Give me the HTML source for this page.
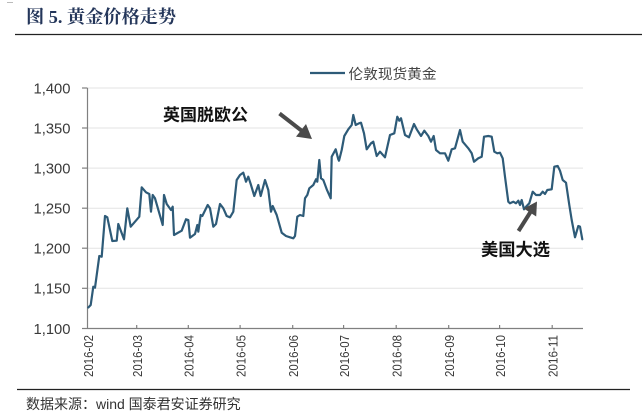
<!DOCTYPE html>
<html><head><meta charset="utf-8"><style>
html,body{margin:0;padding:0;background:#fff;}
svg{display:block;}
</style></head><body>
<svg width="642" height="415" viewBox="0 0 642 415" xmlns="http://www.w3.org/2000/svg">
<rect width="642" height="415" fill="#fff"/>
<line x1="7" y1="2.5" x2="13" y2="2.5" stroke="#bbb" stroke-width="1"/>
<text x="26" y="23" font-family="'Liberation Serif','Noto Serif CJK SC',serif" font-weight="bold" font-size="18" fill="#24365a" textLength="150" lengthAdjust="spacingAndGlyphs">图 5. 黄金价格走势</text>
<line x1="15" y1="34.5" x2="642" y2="34.5" stroke="#222" stroke-width="1.3"/>

<g stroke="#e3e3e3" stroke-width="1">
<line x1="88" y1="88" x2="583" y2="88"/>
<line x1="88" y1="128" x2="583" y2="128"/>
<line x1="88" y1="168.1" x2="583" y2="168.1"/>
<line x1="88" y1="208.2" x2="583" y2="208.2"/>
<line x1="88" y1="248.2" x2="583" y2="248.2"/>
<line x1="88" y1="288.3" x2="583" y2="288.3"/>
</g>
<g stroke="#808080" stroke-width="1.2">
<line x1="87.5" y1="88" x2="87.5" y2="328.5"/>
<line x1="87.5" y1="328.5" x2="583" y2="328.5"/>
<line x1="82" y1="88" x2="87.5" y2="88"/>
<line x1="82" y1="128" x2="87.5" y2="128"/>
<line x1="82" y1="168.1" x2="87.5" y2="168.1"/>
<line x1="82" y1="208.2" x2="87.5" y2="208.2"/>
<line x1="82" y1="248.2" x2="87.5" y2="248.2"/>
<line x1="82" y1="288.3" x2="87.5" y2="288.3"/>
<line x1="82" y1="328.5" x2="87.5" y2="328.5"/>
<line x1="136.7" y1="325" x2="136.7" y2="328.5"/>
<line x1="188.3" y1="325" x2="188.3" y2="328.5"/>
<line x1="240.1" y1="325" x2="240.1" y2="328.5"/>
<line x1="292.7" y1="325" x2="292.7" y2="328.5"/>
<line x1="343.6" y1="325" x2="343.6" y2="328.5"/>
<line x1="396.2" y1="325" x2="396.2" y2="328.5"/>
<line x1="448.7" y1="325" x2="448.7" y2="328.5"/>
<line x1="499.6" y1="325" x2="499.6" y2="328.5"/>
<line x1="552.2" y1="325" x2="552.2" y2="328.5"/>
</g>

<g font-family="'Liberation Sans',sans-serif" font-size="15" fill="#3a3a3a" text-anchor="end">
<text x="70.5" y="93.3" textLength="37" lengthAdjust="spacingAndGlyphs">1,400</text>
<text x="70.5" y="133.3" textLength="37" lengthAdjust="spacingAndGlyphs">1,350</text>
<text x="70.5" y="173.4" textLength="37" lengthAdjust="spacingAndGlyphs">1,300</text>
<text x="70.5" y="213.5" textLength="37" lengthAdjust="spacingAndGlyphs">1,250</text>
<text x="70.5" y="253.5" textLength="37" lengthAdjust="spacingAndGlyphs">1,200</text>
<text x="70.5" y="293.6" textLength="37" lengthAdjust="spacingAndGlyphs">1,150</text>
<text x="70.5" y="333.8" textLength="37" lengthAdjust="spacingAndGlyphs">1,100</text>
</g>

<g font-family="'Liberation Sans',sans-serif" font-size="13" fill="#3a3a3a" text-anchor="end">
<text x="93" y="335" transform="rotate(-90 93 335)" textLength="42" lengthAdjust="spacingAndGlyphs">2016-02</text>
<text x="142" y="335" transform="rotate(-90 142 335)" textLength="42" lengthAdjust="spacingAndGlyphs">2016-03</text>
<text x="193.6" y="335" transform="rotate(-90 193.6 335)" textLength="42" lengthAdjust="spacingAndGlyphs">2016-04</text>
<text x="245.4" y="335" transform="rotate(-90 245.4 335)" textLength="42" lengthAdjust="spacingAndGlyphs">2016-05</text>
<text x="298" y="335" transform="rotate(-90 298 335)" textLength="42" lengthAdjust="spacingAndGlyphs">2016-06</text>
<text x="348.9" y="335" transform="rotate(-90 348.9 335)" textLength="42" lengthAdjust="spacingAndGlyphs">2016-07</text>
<text x="401.5" y="335" transform="rotate(-90 401.5 335)" textLength="42" lengthAdjust="spacingAndGlyphs">2016-08</text>
<text x="454" y="335" transform="rotate(-90 454 335)" textLength="42" lengthAdjust="spacingAndGlyphs">2016-09</text>
<text x="504.9" y="335" transform="rotate(-90 504.9 335)" textLength="42" lengthAdjust="spacingAndGlyphs">2016-10</text>
<text x="557.5" y="335" transform="rotate(-90 557.5 335)" textLength="42" lengthAdjust="spacingAndGlyphs">2016-11</text>
</g>

<line x1="310" y1="73" x2="345" y2="73" stroke="#2e5b78" stroke-width="2.2"/>
<text x="348.5" y="79" font-family="'Liberation Sans','Noto Sans CJK SC',sans-serif" font-size="14" fill="#444" textLength="88" lengthAdjust="spacingAndGlyphs">伦敦现货黄金</text>

<polyline fill="none" stroke="#2e5b78" stroke-width="2.2" stroke-linejoin="round" stroke-linecap="round" points="88.3,307.5 90.7,305 93.3,286.7 95,287.7 99.3,256 101.7,256.7 105,216 107.3,217.3 112.3,241 116.7,240.7 118.3,224 124,239.3 127.3,208.3 130.7,226.7 135,221.7 139.3,216.7 141.7,187.3 146,192.3 149.3,194 151,211.7 152.7,195 155,198.3 162.7,225 164,195 166.7,204 171,210 172.7,206.7 174,235 181.7,230.7 186,219.3 188.3,220 190,237.7 195,234 197.3,225 198.3,231.7 200.7,215 202.3,216 207.7,205 210,208.3 213.3,226.7 216,224 220,204 223.3,208.3 226.7,216 230,217.3 233.3,211.7 236.7,180 240,175 243.3,172.7 246,181.7 248.3,176.7 250.7,184 254.3,196 258.3,185 260.7,196 265,180 268.3,190 271,211.7 272.7,206 276.7,215 280,226.7 281.7,232.7 286,236 290,237.3 293.3,238.3 295,236 297.3,216.7 300,215 303.3,216 305,198.3 307.3,195 309.3,188.3 313.3,185 316,179.3 317.3,181.7 319.3,160 321,178.3 323.3,180 326.7,189.3 330.7,198.3 331.7,156.7 335.7,149.3 338.3,159.3 339,160.7 341.7,150 344.3,136 348.3,129.3 351.7,125 353.3,115 355.7,125 359,123.3 361,122.7 364,133.3 366.7,149.3 371,143.3 373.3,141.7 376.7,156 380,151.7 385,157.3 390,135 394.3,133.3 397.3,116.7 399.3,120.7 401,118.3 405,135 409,137.3 414,124 416.7,129.3 421,136 424.3,130.7 428.3,136 431,141.7 433.7,136 436,150 440,153.3 445,153.3 448.3,160.7 451.7,149.3 455,148.3 460,130 462.7,141.7 468.3,148.3 471.7,153.3 474,161.7 478.3,158.3 481.7,156.7 484,136.7 488.3,136 491.7,136.7 494.3,151.7 497.3,153.3 500,152.7 502.7,158.3 505,176.7 508.3,201.7 510,203.3 513.3,201.7 516,203.3 518.3,200.7 520,205 521.7,200 524,209.3 526.7,206 529.3,203.3 532.7,191.7 536,195 540,195 542.7,191.7 545,194 547.3,190 551.7,189.3 554.3,166.7 557.7,166 560,170.7 562.7,180 566,182.7 569.3,205 571.7,220 575,237.3 578.3,226 580,226.7 582.3,239.3"/>

<text x="163" y="120.5" font-family="'Noto Sans CJK SC',sans-serif" font-weight="bold" font-size="16.5" fill="#111" textLength="85" lengthAdjust="spacingAndGlyphs">英国脱欧公</text>
<line x1="279.5" y1="113.5" x2="302" y2="131" stroke="#4a4a4a" stroke-width="4"/>
<polygon points="312,139 296,136.6 306,124" fill="#4a4a4a"/>

<text x="481" y="255.5" font-family="'Noto Sans CJK SC',sans-serif" font-weight="bold" font-size="17" fill="#111" textLength="69" lengthAdjust="spacingAndGlyphs">美国大选</text>
<line x1="518.5" y1="231" x2="530.5" y2="212" stroke="#4a4a4a" stroke-width="4"/>
<polygon points="537,201.5 536.2,216.5 523.8,208.5" fill="#4a4a4a"/>

<line x1="17" y1="389.5" x2="630" y2="389.5" stroke="#222" stroke-width="1.3"/>
<text x="26" y="409" font-family="'Liberation Sans','Noto Sans CJK SC',sans-serif" font-size="14" fill="#333">数据来源：wind 国泰君安证券研究</text>
</svg>
</body></html>
